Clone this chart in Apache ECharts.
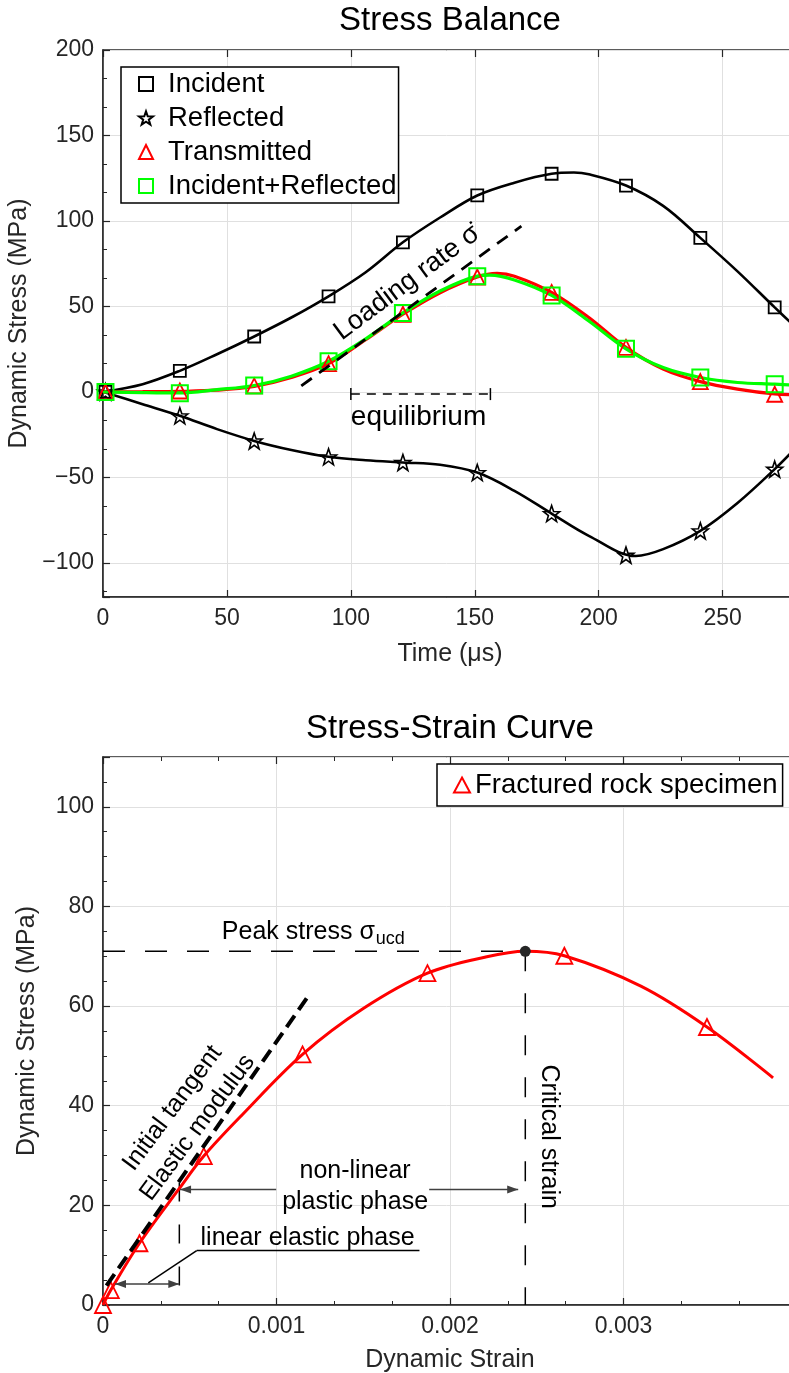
<!DOCTYPE html>
<html><head><meta charset="utf-8">
<script src="https://cdn.jsdelivr.net/npm/echarts@6/dist/echarts.min.js"></script>
<style>html,body{margin:0;padding:0;background:#fff}#c{width:789px;height:1373px}</style>
</head><body><div id="c"></div>
<script>
// ---------------- Top chart: Stress Balance ----------------
const timeTicks = [0, 50, 100, 150, 200, 250];
const timeMarkers = [1, 31, 61, 91, 121, 151, 181, 211, 241, 271];
const incidentMarkers = [0, 12.3, 32.4, 55.9, 87.5, 114.9, 127.6, 120.7, 90.1, 49.4];
const reflectedMarkers = [0, -14.0, -28.7, -38.0, -41.3, -47.2, -71.2, -95.5, -81.3, -45.2];
const transmittedMarkers = [0, 0.5, 3.5, 16.5, 45.4, 67.2, 58.2, 26.0, 6.0, -1.4];
const sumMarkers = [0, -0.8, 3.7, 17.9, 46.2, 67.7, 56.4, 25.2, 8.4, 4.5];

const incidentTime = [0, 16, 31, 46, 61, 76, 91, 106, 121, 136, 151, 166, 181, 190, 196, 211, 226, 241, 256, 271, 280];
const incidentCurve = [0, 4.5, 12.3, 22.0, 32.4, 43.5, 55.9, 70.0, 87.5, 102.0, 114.9, 122.4, 127.6, 128.3, 127.3, 120.7, 108.8, 90.1, 70.5, 49.4, 37.0];
const reflectedTime = [0, 16, 31, 46, 61, 76, 91, 106, 121, 136, 151, 166, 181, 196, 215, 226, 241, 256, 271, 280];
const reflectedCurve = [0, -7.2, -14.0, -21.8, -28.7, -34.0, -38.0, -40.0, -41.3, -42.6, -47.2, -57.9, -71.2, -84.2, -96.0, -92.0, -81.3, -65.0, -45.2, -32.0];
const transmittedTime = [0, 16, 31, 46, 61, 76, 91, 106, 121, 136, 151, 159, 166, 181, 196, 211, 226, 241, 256, 271, 280];
const transmittedCurve = [0, 0.1, 0.3, 1.0, 3.2, 8.4, 16.5, 30.5, 45.4, 58.0, 67.2, 69.3, 67.7, 58.2, 43.5, 26.0, 13.3, 6.0, 1.6, -1.2, -1.6];
const sumTime = [0, 16, 31, 46, 61, 76, 91, 106, 121, 136, 151, 156, 166, 181, 196, 211, 226, 241, 256, 271, 280];
const sumCurve = [0, -0.4, -0.6, 1.3, 3.7, 9.2, 17.9, 31.0, 46.2, 59.0, 67.7, 68.3, 65.5, 56.4, 41.5, 25.2, 14.2, 8.4, 5.5, 4.5, 3.8];

const loadingRateTime = [80, 168.8];
const loadingRateStress = [3.5, 97];
const equilibriumTime = [100, 156.3];
const equilibriumStress = -1.3;

// ---------------- Bottom chart: Stress-Strain Curve ----------------
const strainTicks = [0, 0.001, 0.002, 0.003];
const strainMarkers = [0, 0.000045, 0.00021, 0.000581, 0.00115, 0.00187, 0.002659, 0.003481];
const stressMarkers = [0, 3.0, 12.4, 29.9, 50.3, 66.6, 70.1, 55.8];
const strainCurve = [0, 0.000045, 0.00021, 0.00044, 0.000581, 0.0008, 0.00115, 0.0015, 0.00187, 0.0022, 0.002434, 0.002659, 0.0031, 0.003481, 0.003862];
const stressCurve = [0, 3.0, 12.4, 23.4, 29.9, 38.1, 50.3, 59.5, 66.6, 69.8, 71.0, 70.1, 64.0, 55.8, 45.6];
const peakStrain = 0.002434;
const peakStress = 71.0;
const elasticStrain = [0.00002, 0.001175];
const elasticStress = [3.9, 61.6];
const linearLimitStrain = 0.00044;
const linearLimitStress = 24.6;

// ---------------- styling ----------------
const FONT = '"Liberation Sans", Arial, Helvetica, sans-serif';
const AX = '#262626';
const GRIDC = '#e0e0e0';
const STAR = 'path://M0,-10L2.35,-3.24L9.51,-3.09L3.8,1.24L5.88,8.09L0,4L-5.88,8.09L-3.8,1.24L-9.51,-3.09L-2.35,-3.24Z';

const zip = (a, b) => a.map((x, i) => [x, b[i]]);
const yFmt = v => (v < 0 ? '\u2212' + Math.abs(v) : String(v));

function bottomAxis(grid, min, max, interval, name, nameGap, minorSplit) {
  return {
    gridIndex: grid, type: 'value', min, max, interval, name, nameLocation: 'middle', nameGap,
    nameTextStyle: { fontSize: 25, color: AX, fontFamily: FONT },
    axisLine: { show: true, onZero: false, lineStyle: { color: AX, width: 1.5 } },
    axisTick: { show: true, inside: true, length: 7, lineStyle: { color: AX, width: 1.2 } },
    minorTick: { show: !!minorSplit, splitNumber: minorSplit || 5, length: 4, lineStyle: { color: AX, width: 1 } },
    axisLabel: { fontSize: 23, color: AX, fontFamily: FONT, margin: 10, showMaxLabel: false, showMinLabel: true },
    splitLine: { show: true, lineStyle: { color: GRIDC, width: 1 } }
  };
}
function topAxis(grid, min, max, interval, minorSplit) {
  return {
    gridIndex: grid, type: 'value', position: 'top', min, max, interval,
    axisLine: { show: false, onZero: false }, axisLabel: { show: false }, splitLine: { show: false },
    axisTick: { show: true, inside: true, length: 7, lineStyle: { color: AX, width: 1.2 } },
    minorTick: { show: !!minorSplit, splitNumber: minorSplit || 5, length: 4, lineStyle: { color: AX, width: 1 } }
  };
}
function lineS(xi, yi, xs, ys, color, width, extra) {
  return Object.assign({
    type: 'line', xAxisIndex: xi, yAxisIndex: yi, data: zip(xs, ys), showSymbol: false, symbol: 'none',
    smooth: 0.35, lineStyle: { color, width }, itemStyle: { color },
    silent: true, animation: false, z: 3
  }, extra || {});
}
function markS(name, xi, yi, xs, ys, symbol, size, color, bw) {
  return {
    type: 'scatter', name, xAxisIndex: xi, yAxisIndex: yi, data: zip(xs, ys), symbol, symbolSize: size,
    itemStyle: { color: 'rgba(0,0,0,0)', borderColor: color, borderWidth: bw, opacity: 1 },
    silent: true, animation: false, z: 3
  };
}

const option = {
  animation: false,
  backgroundColor: '#fff',
  grid: [
    { left: 103, top: 50, width: 694, height: 547, show: true, borderColor: AX, borderWidth: 1.5, backgroundColor: 'rgba(0,0,0,0)', containLabel: false, outerBoundsMode: 'none' },
    { left: 103, top: 757, width: 694, height: 548, show: true, borderColor: AX, borderWidth: 1.5, backgroundColor: 'rgba(0,0,0,0)', containLabel: false, outerBoundsMode: 'none' }
  ],
  xAxis: [
    bottomAxis(0, 0, 280, 50, 'Time (\u03bcs)', 45, 0),
    bottomAxis(1, 0, 0.004, 0.001, 'Dynamic Strain', 43, 3),
    topAxis(0, 0, 280, 50, 0),
    topAxis(1, 0, 0.004, 0.001, 3)
  ],
  yAxis: [
    {
      gridIndex: 0, type: 'value', min: -120, max: 200, splitNumber: 6,
      name: 'Dynamic Stress (MPa)', nameLocation: 'middle', nameGap: 63,
      nameTextStyle: { fontSize: 25, color: AX, fontFamily: FONT },
      axisLine: { show: true, onZero: false, lineStyle: { color: AX, width: 1.5 } },
      axisTick: { show: true, inside: true, length: 7, lineStyle: { color: AX, width: 1.2 } },
      minorTick: { show: true, splitNumber: 3, length: 4, lineStyle: { color: AX, width: 1 } },
      axisLabel: { fontSize: 23, color: AX, fontFamily: FONT, margin: 9, formatter: yFmt, showMinLabel: false },
      splitLine: { show: true, lineStyle: { color: GRIDC, width: 1 } }
    },
    {
      gridIndex: 1, type: 'value', min: 0, max: 110, interval: 20,
      name: 'Dynamic Stress (MPa)', nameLocation: 'middle', nameGap: 63,
      nameTextStyle: { fontSize: 25, color: AX, fontFamily: FONT },
      axisLine: { show: true, onZero: false, lineStyle: { color: AX, width: 1.5 } },
      axisTick: { show: true, inside: true, length: 7, lineStyle: { color: AX, width: 1.2 } },
      minorTick: { show: true, splitNumber: 4, length: 4, lineStyle: { color: AX, width: 1 } },
      axisLabel: { fontSize: 23, color: AX, fontFamily: FONT, margin: 9, showMaxLabel: false },
      splitLine: { show: true, lineStyle: { color: GRIDC, width: 1 } }
    }
  ],
  legend: [
    {
      data: ['Incident', 'Reflected', 'Transmitted', 'Incident+Reflected'],
      orient: 'vertical', left: 121, top: 67, padding: [3, 2, 3, 17], itemGap: 6,
      itemWidth: 14, itemHeight: 14, selectedMode: false,
      textStyle: { fontSize: 27.5, color: '#000', fontFamily: FONT, padding: [0, 0, 0, 10] },
      borderColor: '#000', borderWidth: 1.5, backgroundColor: '#fff', borderRadius: 0
    },
    {
      data: ['Fractured rock specimen'],
      orient: 'vertical', left: 437, top: 764, padding: [7, 5, 7, 16],
      itemWidth: 16, itemHeight: 15, selectedMode: false,
      textStyle: { fontSize: 27.5, color: '#000', fontFamily: FONT },
      borderColor: '#000', borderWidth: 1.5, backgroundColor: '#fff', borderRadius: 0
    }
  ],
  series: [
    lineS(0, 0, incidentTime, incidentCurve, '#000', 2.6),
    markS('Incident', 0, 0, timeMarkers, incidentMarkers, 'rect', 12, '#000', 1.8),
    lineS(0, 0, reflectedTime, reflectedCurve, '#000', 2.6),
    markS('Reflected', 0, 0, timeMarkers, reflectedMarkers, STAR, 16, '#000', 1.6),
    lineS(0, 0, transmittedTime, transmittedCurve, '#ff0000', 3.2),
    markS('Transmitted', 0, 0, timeMarkers, transmittedMarkers, 'triangle', 15, '#ff0000', 1.8),
    lineS(0, 0, sumTime, sumCurve, '#00ff00', 3.2),
    markS('Incident+Reflected', 0, 0, timeMarkers, sumMarkers, 'rect', 16, '#00ff00', 2),
    lineS(0, 0, loadingRateTime, loadingRateStress, '#000', 2.8, { smooth: false, lineStyle: { color: '#000', width: 2.8, type: [13, 9] }, z: 4 }),

    lineS(1, 1, strainCurve, stressCurve, '#ff0000', 3),
    markS('Fractured rock specimen', 1, 1, strainMarkers, stressMarkers, 'triangle', 16, '#ff0000', 1.8),
    lineS(1, 1, elasticStrain, elasticStress, '#000', 4, { smooth: false, lineStyle: { color: '#000', width: 4, type: [14, 7] }, z: 4 }),
    lineS(1, 1, [0, peakStrain], [peakStress, peakStress], '#000', 1.5, { smooth: false, lineStyle: { color: '#000', width: 1.5, type: [22, 20] }, z: 2 }),
    lineS(1, 1, [peakStrain, peakStrain], [peakStress, 0], '#000', 1.5, { smooth: false, lineStyle: { color: '#000', width: 1.5, type: [20, 22] }, z: 2 }),
    lineS(1, 1, [linearLimitStrain, linearLimitStrain], [linearLimitStress, 0], '#000', 1.5, { smooth: false, lineStyle: { color: '#000', width: 1.5, type: [19, 23] }, z: 2 }),
    {
      type: 'scatter', xAxisIndex: 1, yAxisIndex: 1, data: [[peakStrain, peakStress]], symbol: 'circle', symbolSize: 11,
      itemStyle: { color: '#262626', opacity: 1 }, silent: true, animation: false, z: 5
    }
  ]
};

const chart = echarts.init(document.getElementById('c'), null, { renderer: 'canvas' });
chart.setOption(option);

const p0 = v => chart.convertToPixel({ xAxisIndex: 0, yAxisIndex: 0 }, v);
const p1 = v => chart.convertToPixel({ xAxisIndex: 1, yAxisIndex: 1 }, v);

function txt(pt, text, size, rotDeg, extra) {
  return Object.assign({
    type: 'text', x: pt[0], y: pt[1], rotation: (rotDeg || 0) * Math.PI / 180, silent: true, z: 100,
    style: Object.assign({ text, fontSize: size, fontFamily: FONT, fill: '#000', align: 'center', verticalAlign: 'middle' }, (extra && extra.style) || {})
  });
}
function seg(a, b, color, w, dash) {
  return { type: 'line', silent: true, z: 100, shape: { x1: a[0], y1: a[1], x2: b[0], y2: b[1] }, style: { stroke: color, lineWidth: w, lineDash: dash || null } };
}
function head(tip, from, color) {
  const dx = tip[0] - from[0], dy = tip[1] - from[1], len = Math.hypot(dx, dy);
  const ux = dx / len, uy = dy / len, L = 11, W = 4;
  const bx = tip[0] - ux * L, by = tip[1] - uy * L;
  return { type: 'polygon', silent: true, z: 101, shape: { points: [[tip[0], tip[1]], [bx - uy * W, by + ux * W], [bx + uy * W, by - ux * W]] }, style: { fill: color } };
}

const ctx = document.createElement('canvas').getContext('2d');
ctx.font = '25px ' + FONT;
const peakTextW = ctx.measureText('Peak stress \u03c3').width;

const g = [];
// titles
g.push(txt([450, 21], 'Stress Balance', 33, 0));
g.push(txt([450, 729], 'Stress-Strain Curve', 33, 0));

// top annotations
g.push(txt(p0([122.7, 63.9]), 'Loading rate \u03c3\u0307', 27, 36.8));
const eqA = p0([equilibriumTime[0], equilibriumStress]);
const eqB = p0([equilibriumTime[1], equilibriumStress]);
g.push(seg(eqA, eqB, '#000', 1.5, [9, 7]));
g.push(seg([eqA[0], eqA[1] - 6], [eqA[0], eqA[1] + 6], '#000', 1.5));
g.push(seg([eqB[0], eqB[1] - 6], [eqB[0], eqB[1] + 6], '#000', 1.5));
g.push(txt(p0([127.3, -15.0]), 'equilibrium', 28, 0));

// bottom annotations
const pk = p1([0.000685, 74.9]);
g.push(txt(pk, 'Peak stress \u03c3', 25, 0, { style: { align: 'left' } }));
g.push(txt([pk[0] + peakTextW + 1, pk[1] + 7.5], 'ucd', 18, 0, { style: { align: 'left' } }));
g.push(txt(p1([0.000401, 39.5]), 'Initial tangent', 25, 53.4));
g.push(txt(p1([0.000545, 35.6]), 'Elastic modulus', 25, 53.4));
g.push(txt(p1([0.002572, 33.8]), 'Critical strain', 25, -90));
g.push(txt(p1([0.001453, 26.8]), 'non-linear', 25, 0));
g.push(txt(p1([0.001453, 20.7]), 'plastic phase', 25, 0));
g.push(txt(p1([0.001179, 13.4]), 'linear elastic phase', 25, 0));

const GR = '#404040';
const nlY = 23.2;
const nl1a = p1([0.000998, nlY]), nl1b = p1([0.000444, nlY]);
const nl2a = p1([0.00188, nlY]), nl2b = p1([0.002393, nlY]);
g.push(seg(nl1a, nl1b, GR, 1.5), head(nl1b, nl1a, GR));
g.push(seg(nl2a, nl2b, GR, 1.5), head(nl2b, nl2a, GR));
const leA = p1([0.0000692, 4.23]), leB = p1([0.00044, 4.23]);
g.push(seg(leA, leB, GR, 1.5), head(leA, leB, GR), head(leB, leA, GR));
g.push(seg(p1([0.000261, 4.43]), p1([0.00054, 10.93]), '#000', 1.5));
g.push(seg(p1([0.00054, 10.93]), p1([0.001824, 10.93]), '#000', 1.5));

chart.setOption({ graphic: g });
</script>
</body></html>
